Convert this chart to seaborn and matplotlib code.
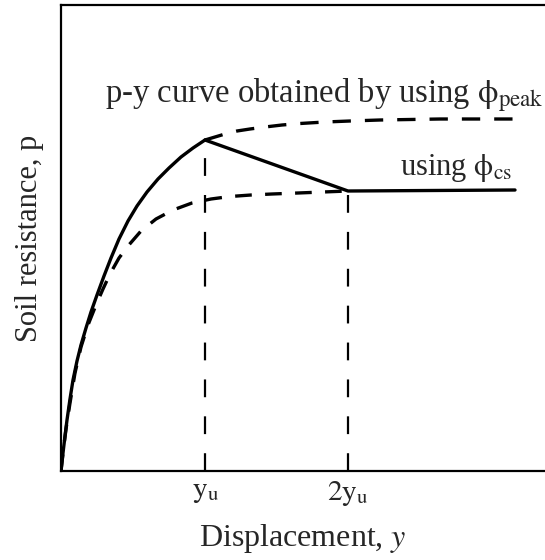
import matplotlib
matplotlib.use("Agg")
import matplotlib.pyplot as plt
import seaborn as sns
import pandas as pd

# Displacement (plot units, y_u = 143.5) and soil resistance (arbitrary units)
peak_rise_x = [0, 1, 2, 4, 6, 9, 12, 16, 20, 25, 30, 36, 43, 50, 58, 67, 76, 86, 97, 108, 120, 132, 144]
peak_rise_p = [0, 9, 18, 35, 51, 72, 91, 110, 126, 143, 159, 176, 195, 213, 232, 250, 265, 279, 292, 303, 314, 323, 331]

peak_tail_x = [144, 154, 164, 176, 189, 204, 221, 239, 264, 289, 319, 349, 379, 409, 454]
peak_tail_p = [331, 334, 337, 340, 342, 344, 346, 347.5, 349, 350, 351, 351.5, 352, 352, 352]

cs_rise_x = [0, 2, 5, 9, 14, 20, 27, 35, 42, 49, 58, 67, 80, 95, 112, 131, 150, 169, 190, 211, 237, 262, 287]
cs_rise_p = [0, 18, 42, 68, 98, 124, 146, 166, 182, 197, 213, 225, 240, 252, 261, 268, 272, 274.5, 276, 277, 278, 279, 280]

softening_x = [144, 287, 454]
softening_p = [331, 280, 281]

marker_x = [144, 287]
marker_labels = [r"$\mathrm{y_{u}}$", r"$\mathrm{2y_{u}}$"]

sns.set_style("white")
plt.rcParams["font.family"] = ["Liberation Serif", "DejaVu Serif"]
plt.rcParams["mathtext.fontset"] = "stix"

fig = plt.figure(figsize=(5.45, 5.6), dpi=100)
ax = fig.add_axes([61 / 545, 89 / 560, 1 - 61 / 545, 466 / 560])


def curve(xs, ps, **kw):
    df = pd.DataFrame({"x": xs, "p": ps})
    sns.lineplot(data=df, x="x", y="p", sort=False, estimator=None, ax=ax,
                 color="black", solid_capstyle="round", solid_joinstyle="round", **kw)


# guide lines at y_u and 2y_u
for xv, pv in zip(marker_x, [peak_rise_p[-1], cs_rise_p[-1]]):
    curve([xv, xv], [0, pv], lw=1.6, dashes=(8.0, 8.6))

curve(peak_rise_x, peak_rise_p, lw=2.4)
curve(softening_x, softening_p, lw=2.4)
curve(peak_tail_x, peak_tail_p, lw=2.4, dashes=(5.5, 4.2))
curve(cs_rise_x, cs_rise_p, lw=2.4, dashes=(5.0, 4.0))

ax.set_xlim(0, 545 - 61)
ax.set_ylim(0, 466)

for s in ["left", "bottom", "top"]:
    ax.spines[s].set_color("black")
    ax.spines[s].set_linewidth(1.6)
ax.spines["right"].set_visible(False)

ax.set_xticks(marker_x)
ax.set_xticklabels(marker_labels, fontsize=21)
ax.set_yticks([])
ax.tick_params(axis="x", length=0, pad=6)

ax.set_xlabel(r"Displacement, $\it{y}$", fontsize=23, labelpad=10)
ax.set_ylabel("Soil resistance, p", fontsize=22, labelpad=12)

ax.text(44, 369, r"p-y curve obtained by using $\mathrm{\phi_{peak}}$",
        fontsize=23.5, ha="left", va="baseline")
ax.text(339, 296, r"using $\mathrm{\phi_{cs}}$", fontsize=22, ha="left", va="baseline")

fig.savefig("out.png", dpi=100)
